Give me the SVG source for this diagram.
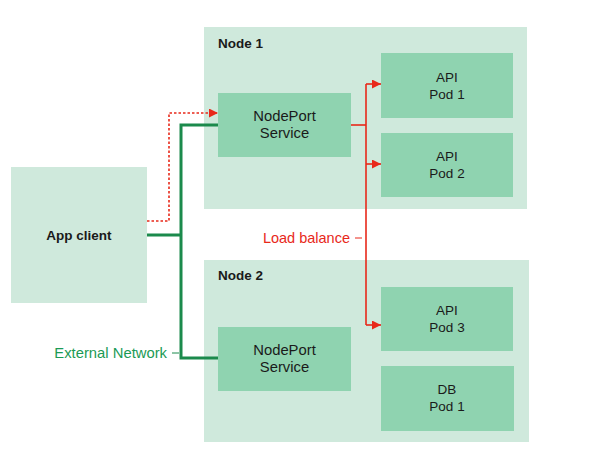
<svg xmlns="http://www.w3.org/2000/svg" width="595" height="468" viewBox="0 0 595 468">
<style>
.outer{fill:#cfe9dc}
.inner{fill:#8fd3b0}
.lbl{font-family:"Liberation Sans",Arial,sans-serif;font-size:13.5px;fill:#1a1a1a;text-anchor:middle}
.big{font-size:14.8px}
.bold{font-weight:bold}
.red{stroke:#e8281a;stroke-width:1.6;fill:none}
.green{stroke:#1b8a4c;stroke-width:3;fill:none}
</style>
<defs>
<marker id="ar" viewBox="0 0 10 10" refX="10" refY="5" markerWidth="9" markerHeight="9" markerUnits="userSpaceOnUse" orient="auto">
<path d="M0,0 L10,5 L0,10 z" fill="#e8281a"/>
</marker>
</defs>
<rect width="595" height="468" fill="#ffffff"/>
<g id="node1">
<rect class="outer" x="204" y="27" width="323" height="182"/>
<text class="lbl bold" x="218" y="48" style="text-anchor:start">Node 1</text>
</g>
<g id="node2">
<rect class="outer" x="204" y="260" width="325" height="182"/>
<text class="lbl bold" x="218" y="280" style="text-anchor:start">Node 2</text>
</g>
<g id="app-client">
<rect class="outer" x="11" y="167" width="136" height="136"/>
<text class="lbl bold" x="79" y="240">App client</text>
</g>
<g id="nodeport1">
<rect class="inner" x="218" y="93" width="133" height="64"/>
<text class="lbl big" x="284.5" y="121">NodePort</text>
<text class="lbl big" x="284.5" y="138">Service</text>
</g>
<g id="nodeport2">
<rect class="inner" x="218" y="327" width="133" height="64"/>
<text class="lbl big" x="284.5" y="355">NodePort</text>
<text class="lbl big" x="284.5" y="372">Service</text>
</g>
<g id="api-pod1">
<rect class="inner" x="381" y="53" width="132" height="65"/>
<text class="lbl" x="447" y="82">API</text>
<text class="lbl" x="447" y="99">Pod 1</text>
</g>
<g id="api-pod2">
<rect class="inner" x="381" y="133" width="132" height="64"/>
<text class="lbl" x="447" y="161">API</text>
<text class="lbl" x="447" y="178">Pod 2</text>
</g>
<g id="api-pod3">
<rect class="inner" x="381" y="287" width="132" height="64"/>
<text class="lbl" x="447" y="315">API</text>
<text class="lbl" x="447" y="332">Pod 3</text>
</g>
<g id="db-pod1">
<rect class="inner" x="381" y="366" width="133" height="65"/>
<text class="lbl" x="447" y="394">DB</text>
<text class="lbl" x="447" y="411">Pod 1</text>
</g>
<g id="connectors">
<polyline class="red" points="351,125 366,125"/>
<polyline class="red" points="366,84 366,325"/>
<line class="red" x1="366" y1="84" x2="381" y2="84" marker-end="url(#ar)"/>
<line class="red" x1="366" y1="164" x2="381" y2="164" marker-end="url(#ar)"/>
<line class="red" x1="366" y1="325" x2="381" y2="325" marker-end="url(#ar)"/>
<polyline class="red" points="147,221 169,221 169,113 218,113" stroke-dasharray="2.5,2" stroke-width="1.4" marker-end="url(#ar)"/>
<polyline class="green" points="147,235 181,235"/>
<polyline class="green" points="218,125 181,125 181,358 218,358"/>
<line x1="355" y1="238" x2="362" y2="238" stroke="#e8281a" stroke-width="1"/>
<line x1="172" y1="353" x2="179" y2="353" stroke="#1b8a4c" stroke-width="1"/>
<text x="350" y="243" style="font-family:'Liberation Sans',Arial,sans-serif;font-size:14.5px;fill:#e8281a;text-anchor:end">Load balance</text>
<text x="167" y="358" style="font-family:'Liberation Sans',Arial,sans-serif;font-size:14.8px;fill:#1b9a55;text-anchor:end">External Network</text>
</g>
</svg>
